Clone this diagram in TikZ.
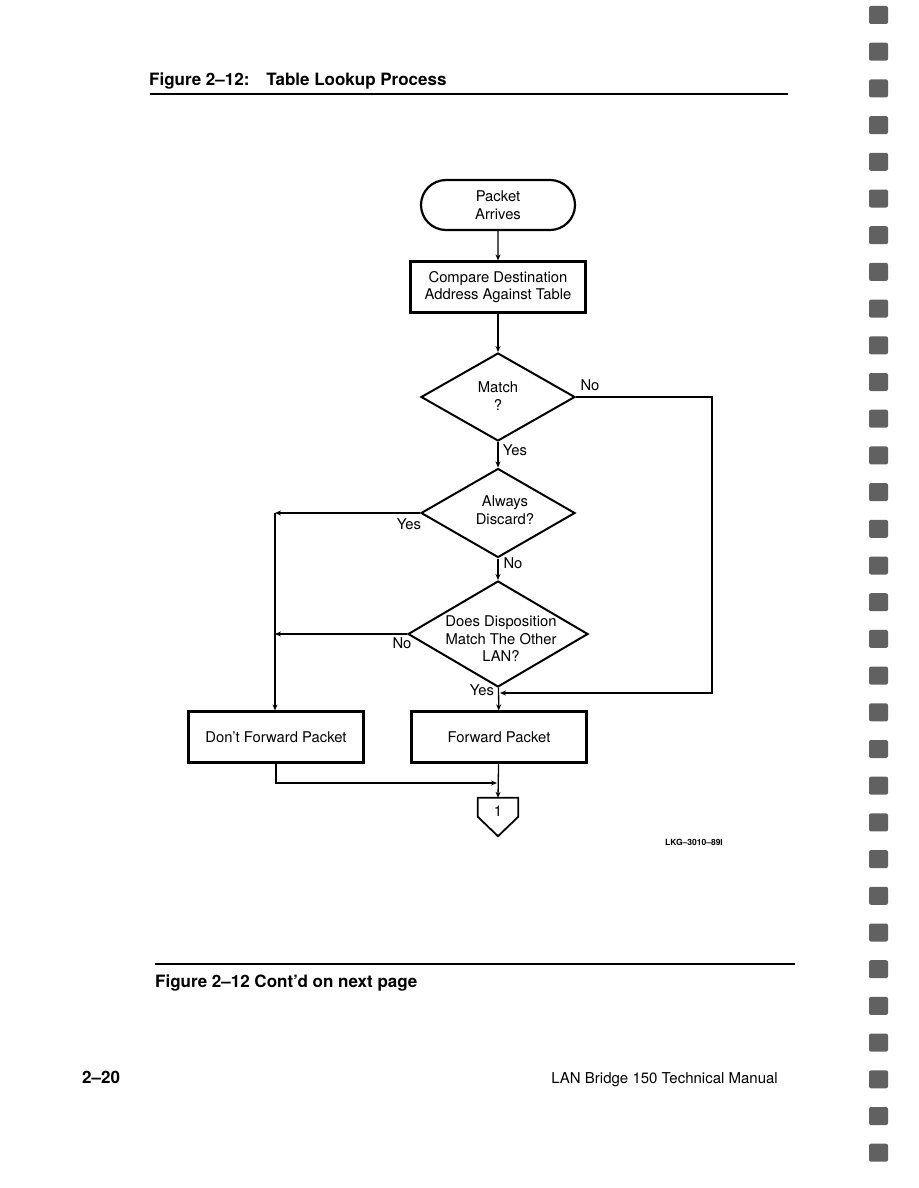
\documentclass[tikz,border=0pt]{standalone}
\usepackage{fontspec}
\setmainfont{TeX Gyre Heros}
\usetikzlibrary{shapes.geometric,shapes.misc,arrows.meta}
\tikzset{
  fc/.style={font=\fontsize{14.8}{17.5}\selectfont},
  term/.style={draw, rounded rectangle, line width=2.2pt, minimum width=156pt, minimum height=50pt, align=center, fc, inner sep=1pt},
  procbox/.style={draw, rectangle, line width=2.2pt, minimum width=175pt, minimum height=51pt, align=center, fc, inner sep=1pt},
  decbox/.style={draw, diamond, line width=2pt, inner sep=0pt},
  dectext/.style={align=center, fc, inner sep=0pt},
  conline/.style={line width=1.3pt},
  arr/.style={conline, -{Stealth[length=6pt,width=5pt]}},
  lab/.style={fc, inner sep=0pt}
}
\begin{document}
\begin{tikzpicture}[x=1pt,y=-1pt]
\useasboundingbox (0,0) rectangle (918,1188);
\fill[white] (0,0) rectangle (918,1188);

% header
\node[anchor=base west, inner sep=0pt, font=\bfseries\fontsize{17}{20}\selectfont] (title) at (149,86) {Figure 2--12:\quad Table Lookup Process};
\draw[line width=2.4pt] (150,94) -- (788,94);

% flowchart nodes
\node[term] (start) at (498,205) {Packet\\Arrives};
\node[procbox] (cmp) at (498,287) {Compare Destination\\Address Against Table};
\node[decbox, minimum width=154pt, minimum height=88pt] (match) at (498,397) {};
\node[dectext] (matcht) at (498,396) {Match\\?};
\node[decbox, minimum width=154pt, minimum height=89pt] (disc) at (498,513) {};
\node[dectext] (disct) at (505,510) {Always\\Discard?};
\node[decbox, minimum width=180pt, minimum height=106pt] (disp) at (498,634) {};
\node[dectext] (dispt) at (501,639) {Does Disposition\\Match The Other\\LAN?};
\node[procbox] (dont) at (276,737) {Don't Forward Packet};
\node[procbox] (fwd) at (499,737) {Forward Packet};
\node[minimum width=40pt, minimum height=38pt, inner sep=0pt] (conn) at (498,817) {};
\draw[line width=1.8pt, line join=miter] (conn.north west) -- (conn.north east) -- ([yshift=-19pt]conn.north east) -- (conn.south) -- ([yshift=-19pt]conn.north west) -- cycle;
\node[fc, inner sep=0pt] (connt) at (498,811) {1};

% junction coordinates
\coordinate (rc1) at (712,397);
\coordinate (rc2) at (712,693);
\coordinate (rj) at (500,693);
\coordinate (lc) at (275,513);
\coordinate (lj) at (lc |- disp.west);
\coordinate (bc) at (276,783);
\coordinate (bj) at (497,783);

% connectors
\draw[arr] (start) -- (cmp);
\draw[arr] (cmp) -- (match);
\draw[arr] (match) -- (disc);
\draw[arr] (disc) -- (disp);
\draw[arr] (disp) -- (fwd);
\draw[arr] (match.east) -- (rc1) -- (rc2) -- (rj);
\draw[arr] (disc.west) -- (lc);
\draw[arr] (lc) -- (lc |- dont.north);
\draw[arr] (disp.west) -- (lj);
\draw[arr] (dont.south) -- (bc) -- (bj);
\draw[arr] (fwd) -- (conn.north);

% labels
\node[lab] (l1) at (590,385) {No};
\node[lab] (l2) at (515,450) {Yes};
\node[lab] (l3) at (409,524) {Yes};
\node[lab] (l4) at (513,563) {No};
\node[lab] (l5) at (402,643) {No};
\node[lab] (l6) at (482,690) {Yes};

\node[inner sep=0pt, font=\bfseries\fontsize{8.5}{10}\selectfont] (code) at (694,842) {LKG--3010--89I};

% footer
\draw[line width=2pt] (155,964) -- (795,964);
\node[anchor=base west, inner sep=0pt, font=\bfseries\fontsize{17}{20}\selectfont] (cont) at (155,987) {Figure 2--12 Cont'd on next page};
\node[anchor=base west, inner sep=0pt, font=\bfseries\fontsize{17}{20}\selectfont] (pg) at (82,1083) {2--20};
\node[anchor=base east, inner sep=0pt, font=\fontsize{15}{18}\selectfont] (man) at (778,1083) {LAN Bridge 150 Technical Manual};

% binding marks
\foreach \i in {0,...,31}{
  \fill[black!62, rounded corners=2pt] (869,{6+\i*36.7}) rectangle ++(19,18);
}
\end{tikzpicture}
\end{document}
